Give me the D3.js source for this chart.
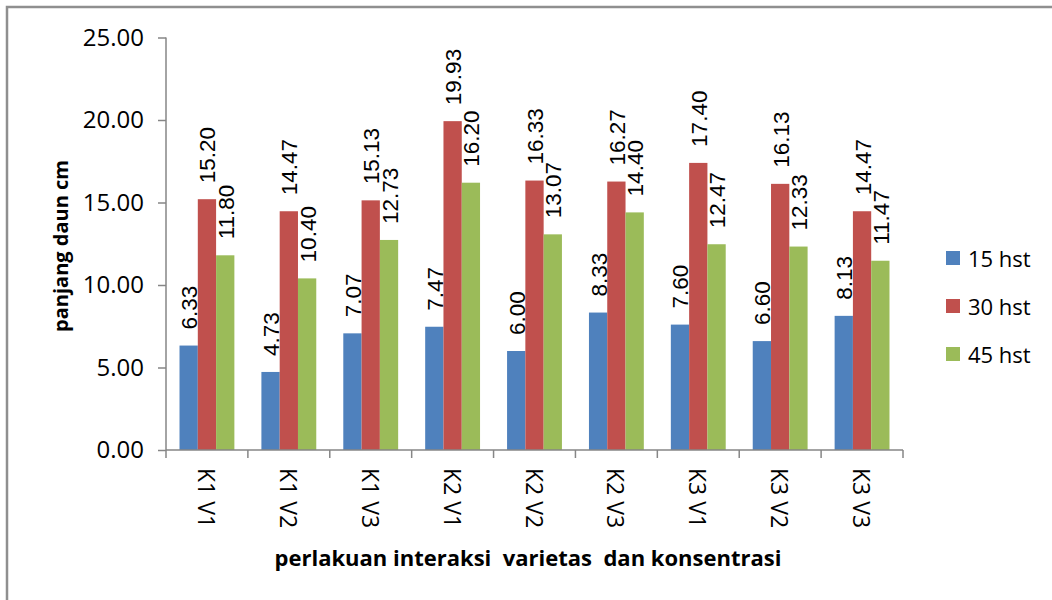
<!DOCTYPE html>
<html lang="en">
<head>
  <meta charset="UTF-8">
  <title>panjang daun</title>
  <style>
    body { margin: 0; background: #fff; }
    svg { display: block; }
  </style>
</head>
<body>
  <script src="https://d3js.org/d3.v7.min.js"></script>
  <script>
    const categories = ['K1 V1', 'K1 V2', 'K1 V3', 'K2 V1', 'K2 V2', 'K2 V3', 'K3 V1', 'K3 V2', 'K3 V3'];
    const seriesNames = ['15 hst', '30 hst', '45 hst'];
    const hst15 = [6.33, 4.73, 7.07, 7.47, 6.00, 8.33, 7.60, 6.60, 8.13];
    const hst30 = [15.20, 14.47, 15.13, 19.93, 16.33, 16.27, 17.40, 16.13, 14.47];
    const hst45 = [11.80, 10.40, 12.73, 16.20, 13.07, 14.40, 12.47, 12.33, 11.47];
    const yTicks = [0, 5, 10, 15, 20, 25];
    const colors = ['#4F81BD', '#C0504D', '#9BBB59'];

    const width = 1052;
    const height = 600;
    const axisColor = '#868686';

    const svg = d3.select('body')
                  .append('svg')
                  .attr('width', width)
                  .attr('height', height);

    // outer chart frame
    svg.append('rect')
       .attr('x', 7).attr('y', 7)
       .attr('width', 1200).attr('height', 800)
       .attr('fill', 'none')
       .attr('stroke', '#8f8f8f')
       .attr('stroke-width', 2.5);

    const y = d3.scaleLinear().domain([0, 25]).range([450, 37.5]);
    const x0 = d3.scaleBand()
                 .domain(categories)
                 .range([166, 903])
                 .paddingInner(0.33)
                 .paddingOuter(0.165);
    const x1 = d3.scaleBand()
                 .domain(seriesNames)
                 .range([0, x0.bandwidth()]);

    const values = [hst15, hst30, hst45];
    const data = categories.map((c, i) => ({
      cat: c,
      vals: seriesNames.map((s, j) => ({ s: s, j: j, v: values[j][i] }))
    }));

    // y axis
    const yAxis = d3.axisLeft(y)
                    .tickValues(yTicks)
                    .tickSize(8)
                    .tickPadding(14)
                    .tickFormat(d3.format('.2f'));
    const gy = svg.append('g')
                  .attr('transform', 'translate(166,0)')
                  .call(yAxis);
    gy.select('.domain').attr('stroke', axisColor).attr('stroke-width', 1.5)
      .attr('d', 'M0,' + y(25) + 'V' + y(0));
    gy.selectAll('.tick line').attr('stroke', axisColor).attr('stroke-width', 1.5);
    gy.selectAll('.tick text')
      .attr('fill', '#000')
      .style('font-family', '"Open Sans", sans-serif')
      .style('font-size', '24px');

    // bars
    const groups = svg.selectAll('g.grp')
                      .data(data)
                      .enter()
                      .append('g')
                      .attr('class', 'grp')
                      .attr('transform', d => 'translate(' + x0(d.cat) + ',0)');

    groups.selectAll('rect')
          .data(d => d.vals)
          .enter()
          .append('rect')
          .attr('x', d => x1(d.s))
          .attr('y', d => y(d.v))
          .attr('width', x1.bandwidth())
          .attr('height', d => y(0) - y(d.v))
          .attr('fill', d => colors[d.j]);

    // x axis: line and ticks at group borders
    const xLine = svg.append('g');
    xLine.append('line')
         .attr('x1', 166).attr('x2', 903)
         .attr('y1', y(0)).attr('y2', y(0))
         .attr('stroke', axisColor).attr('stroke-width', 1.5);
    const step = x0.step();
    const borders = d3.range(categories.length + 1).map(i => 166 + i * step);
    xLine.selectAll('line.tk')
         .data(borders)
         .enter()
         .append('line')
         .attr('class', 'tk')
         .attr('x1', d => d).attr('x2', d => d)
         .attr('y1', y(0)).attr('y2', y(0) + 8)
         .attr('stroke', axisColor).attr('stroke-width', 1.5);

    // category labels, rotated clockwise
    svg.selectAll('text.cat')
       .data(categories)
       .enter()
       .append('text')
       .attr('class', 'cat')
       .attr('transform', d => 'translate(' + (x0(d) + x0.bandwidth() / 2) + ',' + 468 + ') rotate(90)')
       .attr('dominant-baseline', 'central')
       .attr('text-anchor', 'start')
       .style('font-family', '"Open Sans", sans-serif')
       .style('font-size', '23px')
       .text(d => d);

    // data labels
    groups.selectAll('text.val')
          .data(d => d.vals)
          .enter()
          .append('text')
          .attr('class', 'val')
          .attr('transform', d => 'translate(' + (x1(d.s) + x1.bandwidth() / 2 + 1) + ',' + (y(d.v) - 16) + ') rotate(-90)')
          .attr('dominant-baseline', 'central')
          .attr('text-anchor', 'start')
          .style('font-family', '"Liberation Sans", Arial, sans-serif')
          .style('font-size', '22.5px')
          .text(d => d.v.toFixed(2));

    // axis titles
    svg.append('text')
       .attr('transform', 'translate(60,246) rotate(-90)')
       .attr('text-anchor', 'middle')
       .attr('dominant-baseline', 'central')
       .style('font-family', '"Open Sans", sans-serif')
       .style('font-weight', 'bold')
       .style('font-size', '20px')
       .text('panjang daun cm');

    svg.append('text')
       .attr('x', 528).attr('y', 557)
       .attr('text-anchor', 'middle')
       .attr('dominant-baseline', 'central')
       .style('font-family', '"Open Sans", sans-serif')
       .style('font-weight', 'bold')
       .style('font-size', '22px')
       .style('white-space', 'pre')
       .text('perlakuan interaksi  varietas  dan konsentrasi');

    // legend
    const legend = svg.selectAll('g.leg')
                      .data(seriesNames)
                      .enter()
                      .append('g')
                      .attr('class', 'leg')
                      .attr('transform', (d, i) => 'translate(946,' + (251 + i * 48) + ')');
    legend.append('rect')
          .attr('width', 14).attr('height', 14)
          .attr('fill', (d, i) => colors[i]);
    legend.append('text')
          .attr('x', 22).attr('y', 7)
          .attr('dominant-baseline', 'central')
          .style('font-family', '"Open Sans", sans-serif')
          .style('font-size', '22px')
          .text(d => d);
  </script>
</body>
</html>
